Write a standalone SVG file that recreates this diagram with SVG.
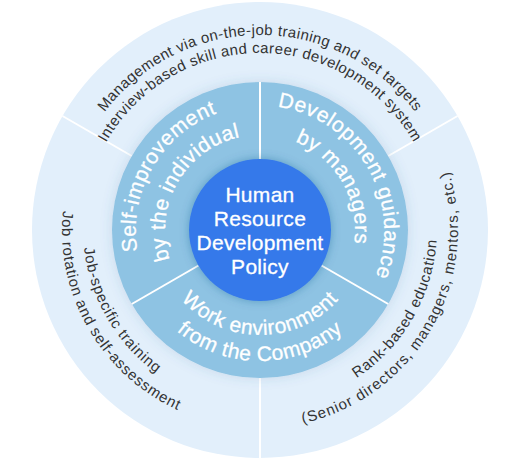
<svg xmlns="http://www.w3.org/2000/svg" width="520" height="460" viewBox="0 0 520 460">
<style>
.outer-t{font-family:"Liberation Sans",Arial,sans-serif;font-size:15px;fill:#333;letter-spacing:0.4px}
.side{letter-spacing:0.8px}
.wide{letter-spacing:1px}
.mid-t{font-family:"Liberation Sans",Arial,sans-serif;font-size:21px;fill:#fff;stroke:#fff;stroke-width:0.3;letter-spacing:0.5px}
.core-t{font-family:"Liberation Sans",Arial,sans-serif;font-size:21px;fill:#fff;stroke:#fff;stroke-width:0.3;letter-spacing:0.3px;text-anchor:middle}
.div{stroke:#fff;stroke-width:2}
</style>
<defs>
<filter id="sh1" x="-20%" y="-20%" width="140%" height="140%">
<feDropShadow dx="0" dy="0" stdDeviation="6" flood-color="#3a6f9c" flood-opacity="0.18"/>
</filter>
<filter id="sh2" x="-30%" y="-30%" width="160%" height="160%">
<feDropShadow dx="0" dy="0" stdDeviation="5" flood-color="#1d5488" flood-opacity="0.38"/>
</filter>
<path id="pTop1" d="M 65 230 A 195 195 0 0 1 455 230"/>
<path id="pTop2" d="M 83 230 A 177 177 0 0 1 437 230"/>
<path id="pL1" d="M 170.5 75 A 179 179 0 0 0 349.5 385"/>
<path id="pL2" d="M 161 58.5 A 198 198 0 0 0 359 401.5"/>
<path id="pR1" d="M 170.5 385 A 179 179 0 0 0 349.5 75"/>
<path id="pR2" d="M 161 401.5 A 198 198 0 0 0 359 58.5"/>
<path id="pUL1" d="M 197.5 338.25 A 125 125 0 0 1 322.5 121.75"/>
<path id="pUL2" d="M 212.5 312.3 A 95 95 0 0 1 307.5 147.7"/>
<path id="pUR1" d="M 197.5 121.75 A 125 125 0 0 1 322.5 338.25"/>
<path id="pUR2" d="M 212.5 147.7 A 95 95 0 0 1 307.5 312.3"/>
<path id="pB1" d="M 155 230 A 105 105 0 0 0 365 230"/>
<path id="pB2" d="M 129 230 A 131 131 0 0 0 391 230"/>
</defs>

<g id="outer-ring">
<circle cx="260" cy="230" r="228" fill="#e2effb"/>
</g>

<g id="connectors">
<line class="div" x1="131.8" y1="156" x2="62.5" y2="116"/>
<line class="div" x1="388.2" y1="156" x2="457.5" y2="116"/>
<line class="div" x1="260" y1="378" x2="260" y2="459"/>
</g>

<g id="middle-ring">
<circle cx="260" cy="230" r="148" fill="#8ec3e3" filter="url(#sh1)"/>
</g>

<g id="middle-dividers">
<line class="div" x1="260" y1="159" x2="260" y2="82"/>
<line class="div" x1="321.5" y1="265.5" x2="388.2" y2="304"/>
<line class="div" x1="198.5" y1="265.5" x2="131.8" y2="304"/>
</g>

<g id="core">
<circle cx="260" cy="230" r="71" fill="#3479ea" filter="url(#sh2)"/>
<text class="core-t" x="260" y="201.5">Human</text>
<text class="core-t" x="260" y="226">Resource</text>
<text class="core-t" x="260" y="250">Development</text>
<text class="core-t" x="260" y="274">Policy</text>
</g>

<g id="node-self">
<text class="mid-t"><textPath href="#pUL1" startOffset="50%" text-anchor="middle">Self-improvement</textPath></text>
<text class="mid-t"><textPath href="#pUL2" startOffset="50%" text-anchor="middle">by the individual</textPath></text>
</g>
<g id="node-managers">
<text class="mid-t"><textPath href="#pUR1" startOffset="50%" text-anchor="middle">Development guidance</textPath></text>
<text class="mid-t"><textPath href="#pUR2" startOffset="50%" text-anchor="middle">by managers</textPath></text>
</g>
<g id="node-company">
<text class="mid-t"><textPath href="#pB1" startOffset="50%" text-anchor="middle">Work environment</textPath></text>
<text class="mid-t"><textPath href="#pB2" startOffset="50%" text-anchor="middle">from the Company</textPath></text>
</g>

<g id="outer-top">
<text class="outer-t"><textPath href="#pTop1" startOffset="50%" text-anchor="middle">Management via on-the-job training and set targets</textPath></text>
<text class="outer-t"><textPath href="#pTop2" startOffset="50%" text-anchor="middle">Interview-based skill and career development system</textPath></text>
</g>
<g id="outer-left">
<text class="outer-t side"><textPath href="#pL1" startOffset="50%" text-anchor="middle">Job-specific training</textPath></text>
<text class="outer-t side"><textPath href="#pL2" startOffset="50%" text-anchor="middle">Job rotation and self-assessment</textPath></text>
</g>
<g id="outer-right">
<text class="outer-t side"><textPath href="#pR1" startOffset="50%" text-anchor="middle">Rank-based education</textPath></text>
<text class="outer-t wide"><textPath href="#pR2" startOffset="50%" text-anchor="middle">(Senior directors, managers, mentors, etc.)</textPath></text>
</g>
</svg>
